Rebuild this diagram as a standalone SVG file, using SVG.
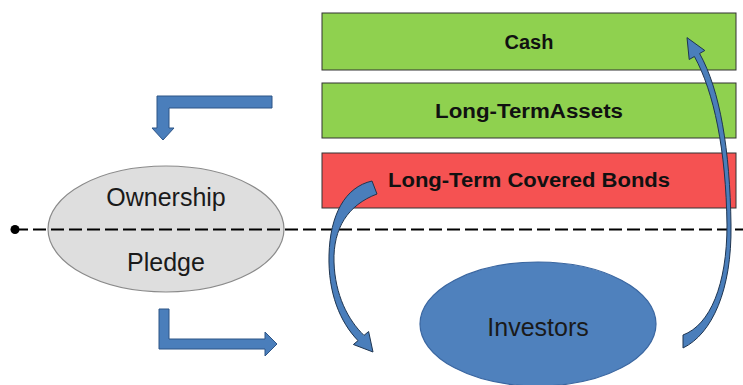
<svg xmlns="http://www.w3.org/2000/svg" width="743" height="385" viewBox="0 0 743 385">
<style>
.box{stroke:#333;stroke-width:1}
.green{fill:#8fd14f}
.red{fill:#f55252}
.blabel{font-family:"Liberation Sans",Arial,sans-serif;font-weight:bold;font-size:20px;fill:#111;text-anchor:middle}
.elabel{font-family:"Liberation Sans",Arial,sans-serif;font-size:25px;fill:#1a1a1a;text-anchor:middle}
.arrow{fill:#4a7ebb;stroke:#2d5486;stroke-width:1;stroke-linejoin:round}
.curved{fill:#4a7ebb;stroke:#1f3550;stroke-width:1;stroke-linejoin:round}
</style>
<rect width="743" height="385" fill="#fff"/>
<g id="cash">
<rect class="box green" x="322" y="13" width="414" height="57"/>
<text class="blabel" x="529" y="49" font-size="21">Cash</text>
</g>
<g id="long-term-assets">
<rect class="box green" x="322" y="83" width="414" height="55"/>
<text class="blabel" x="529" y="118" textLength="188" lengthAdjust="spacingAndGlyphs">Long-TermAssets</text>
</g>
<g id="covered-bonds">
<rect class="box red" x="322" y="153" width="414" height="55"/>
<text class="blabel" x="529" y="187" textLength="282" lengthAdjust="spacingAndGlyphs">Long-Term Covered Bonds</text>
</g>
<g id="ownership-pledge">
<ellipse cx="166" cy="229" rx="118" ry="63" fill="#dedede" stroke="#8a8a8a" stroke-width="1.2"/>
<text class="elabel" x="166" y="206">Ownership</text>
<text class="elabel" x="166" y="271">Pledge</text>
</g>
<g id="investors">
<ellipse cx="538" cy="324" rx="118" ry="62" fill="#4f81bd" stroke="#3a66a0" stroke-width="1.2"/>
<text class="elabel" x="538" y="336">Investors</text>
</g>
<g id="connectors">
<circle cx="15" cy="229.5" r="4.5" fill="#000"/>
<line x1="15" y1="229.5" x2="743" y2="229.5" stroke="#000" stroke-width="2" stroke-dasharray="13 5"/>
<path class="arrow" d="M272 96 L272 108 L169 108 L169 128 L174 128 L163 140 L152 128 L157 128 L157 96 Z"/>
<path class="arrow" d="M159 309 L169 309 L169 339 L265 339 L265 332 L277 344 L265 356 L265 349 L159 349 Z"/>
<path class="curved" d="M372 181 C345 187 330 215 329 255 C328 293 340 322 358 340.6 L353.4 344.5 L373 352 L368.6 331.5 L364 335.4 C348 320 335 295 334 262 C333 228 348 205 377 194 Z"/>
<path class="curved" d="M683 348 C712 334 732 290 731 225 C730 150 720 90 699.6 53.5 L704.8 50.5 L687 37.6 L689.2 59.5 L694.4 56.5 C714 92 726 150 727 225 C727 285 710 325 683 335 Z"/>
</g>
</svg>
